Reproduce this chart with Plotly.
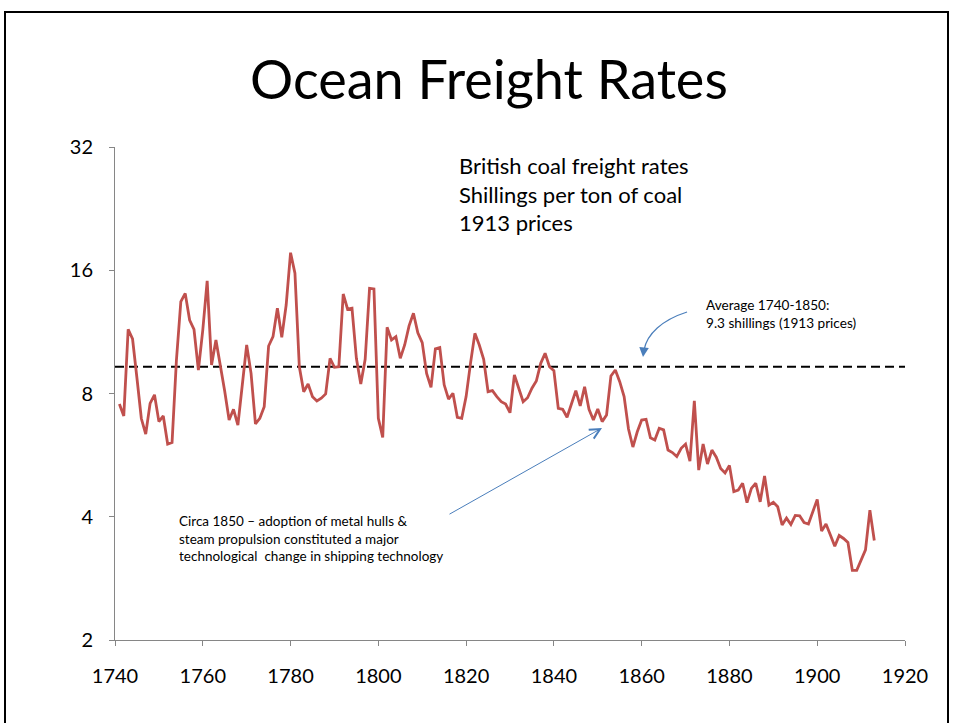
import plotly.graph_objects as go

years = list(range(1741, 1914))
freight_rates = [
    7.54, 7.05, 11.48, 10.87, 8.73, 6.95, 6.37, 7.57, 7.94, 6.83,   # 1741-1750
    7.05, 6.02, 6.07, 9.66, 13.41, 14.05, 12.09, 11.48, 9.13, 11.43,  # 1751-1760
    15.08, 9.39, 10.81, 9.40, 8.10, 6.89, 7.32, 6.70, 8.50, 10.51,    # 1761-1770
    8.96, 6.74, 6.96, 7.43, 10.45, 11.01, 12.92, 10.98, 13.16, 17.66, # 1771-1780
    15.73, 9.30, 8.08, 8.44, 7.86, 7.67, 7.79, 7.98, 9.75, 9.27,      # 1781-1790
    9.30, 14.00, 12.85, 12.92, 9.75, 8.44, 9.70, 14.45, 14.40, 6.96,  # 1791-1800
    6.25, 11.61, 10.81, 11.01, 9.75, 10.51, 11.70, 12.56, 11.26, 10.65,  # 1801-1810
    8.96, 8.28, 10.28, 10.36, 8.40, 7.75, 8.01, 7.00, 6.96, 7.86,     # 1811-1820
    9.48, 11.22, 10.51, 9.70, 8.08, 8.13, 7.86, 7.64, 7.54, 7.18,     # 1821-1830
    8.88, 8.24, 7.64, 7.81, 8.24, 8.58, 9.48, 10.03, 9.30, 9.10,      # 1831-1840
    7.36, 7.32, 7.00, 7.54, 8.13, 7.46, 8.31, 7.32, 6.89, 7.33,       # 1841-1850
    6.83, 7.09, 8.83, 9.13, 8.55, 7.86, 6.55, 5.92, 6.45, 6.89,       # 1851-1860
    6.92, 6.24, 6.16, 6.58, 6.52, 5.82, 5.74, 5.61, 5.88, 6.02,       # 1861-1870
    5.47, 7.68, 5.20, 6.02, 5.38, 5.82, 5.59, 5.25, 5.12, 5.34,       # 1871-1880
    4.61, 4.65, 4.83, 4.33, 4.69, 4.83, 4.35, 5.03, 4.27, 4.34,       # 1881-1890
    4.23, 3.82, 3.97, 3.83, 4.03, 4.02, 3.87, 3.84, 4.11, 4.41,       # 1891-1900
    3.69, 3.84, 3.61, 3.39, 3.60, 3.54, 3.46, 2.96, 2.96, 3.14,       # 1901-1910
    3.32, 4.15, 3.50,                                                 # 1911-1913
]

average_years = [1740, 1920]
average_value = [9.3, 9.3]

x_ticks = [1740, 1760, 1780, 1800, 1820, 1840, 1860, 1880, 1900, 1920]
y_ticks = [2, 4, 8, 16, 32]

FONT = "Lato"
AXIS_GRAY = "#868686"
ARROW_BLUE = "#4A7EBB"

fig = go.Figure()
fig.add_trace(go.Scatter(
    x=average_years, y=average_value, mode="lines",
    line=dict(color="black", width=2.2, dash="9px,5px"),
    hoverinfo="skip", showlegend=False,
))
fig.add_trace(go.Scatter(
    x=years, y=freight_rates, mode="lines",
    line=dict(color="#C0504D", width=2.8),
    showlegend=False,
))

def px_to_paper(px, py):
    return (px - 115) / 790.0, (640 - py) / 493.0

shapes = []
# slide border
x0, y0 = px_to_paper(5, 12)
x1, y1 = px_to_paper(948, 735)
shapes.append(dict(type="rect", xref="paper", yref="paper", x0=x0, y0=y1, x1=x1, y1=y0,
                   line=dict(color="black", width=2), fillcolor="rgba(0,0,0,0)", layer="below"))

# curved arrow path
def pp(px, py):
    a, b = px_to_paper(px, py)
    return f"{a:.4f},{b:.4f}"
path = f"M {pp(687, 312)} C {pp(662, 320)} {pp(647, 334)} {pp(644, 350)}"
shapes.append(dict(type="path", xref="paper", yref="paper", path=path,
                   line=dict(color=ARROW_BLUE, width=1.2)))

annotations = []
tx, ty = px_to_paper(489, 78)
annotations.append(dict(text="Ocean Freight Rates", xref="paper", yref="paper", x=tx, y=ty,
                        xanchor="center", yanchor="middle", showarrow=False,
                        font=dict(family=FONT, size=54, color="black")))
ax_, ay_ = px_to_paper(457, 150)
annotations.append(dict(text="British coal freight rates<br>Shillings per ton of coal<br>1913 prices",
                        xref="paper", yref="paper", x=ax_, y=ay_, xanchor="left", yanchor="top",
                        align="left", showarrow=False, font=dict(family=FONT, size=22, color="black")))
bx, by = px_to_paper(704, 295)
annotations.append(dict(text="Average 1740-1850:<br>9.3 shillings (1913 prices)",
                        xref="paper", yref="paper", x=bx, y=by, xanchor="left", yanchor="top",
                        align="left", showarrow=False, font=dict(family=FONT, size=13.6, color="black")))
cx, cy = px_to_paper(177, 511)
annotations.append(dict(text="Circa 1850 – adoption of metal hulls &amp;<br>steam propulsion constituted a major<br>technological  change in shipping technology",
                        xref="paper", yref="paper", x=cx, y=cy, xanchor="left", yanchor="top",
                        align="left", showarrow=False, font=dict(family=FONT, size=13.5, color="black")))
# straight arrow
sx, sy = px_to_paper(602, 428)
annotations.append(dict(text="", xref="paper", yref="paper", x=sx, y=sy, ax=448 - 602, ay=515 - 428,
                        axref="pixel", ayref="pixel", showarrow=True, arrowhead=5, arrowsize=2,
                        arrowwidth=1, arrowcolor=ARROW_BLUE, standoff=0))
# curved arrow head
hx, hy = px_to_paper(643, 357)
annotations.append(dict(text="", xref="paper", yref="paper", x=hx, y=hy, ax=1, ay=-9,
                        showarrow=True, arrowhead=2, arrowsize=1.6,
                        arrowwidth=1.2, arrowcolor=ARROW_BLUE, standoff=0))

fig.update_layout(
    width=953, height=723,
    margin=dict(l=115, r=48, t=147, b=83),
    paper_bgcolor="white", plot_bgcolor="white",
    shapes=shapes, annotations=annotations,
    xaxis=dict(range=[1740, 1920], tickvals=x_ticks, ticktext=[str(t) for t in x_ticks],
               showgrid=False, zeroline=False, showline=True, linecolor=AXIS_GRAY, linewidth=1,
               ticks="outside", ticklen=5, tickcolor=AXIS_GRAY, ticklabelstandoff=13,
               tickfont=dict(family=FONT, size=20, color="black")),
    yaxis=dict(type="log", range=[0.30103, 1.50515], tickvals=y_ticks, ticktext=[str(t) for t in y_ticks],
               showgrid=False, zeroline=False, showline=True, linecolor=AXIS_GRAY, linewidth=1,
               ticks="outside", ticklen=5, tickcolor=AXIS_GRAY, ticklabelstandoff=12,
               tickfont=dict(family=FONT, size=20, color="black")),
)

fig.write_html("out.html", config={"displayModeBar": False},
               post_script="document.body.style.margin='0';document.body.style.overflow='hidden';")
